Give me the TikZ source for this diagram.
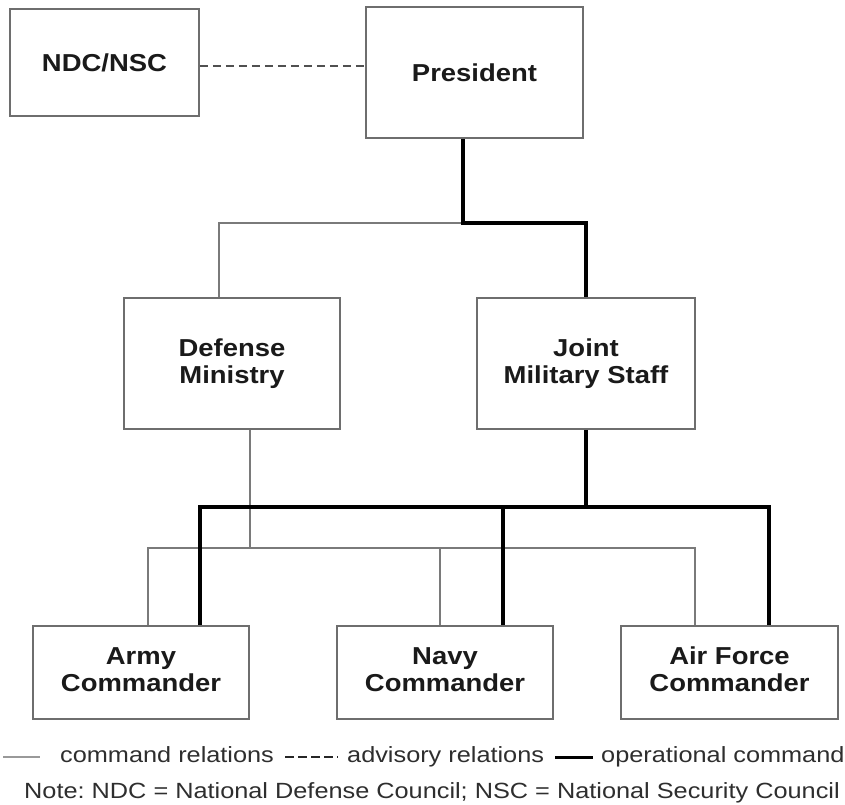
\documentclass[tikz,border=0pt]{standalone}
\usepackage{fontspec}
\setmainfont{Liberation Sans}
\newfontfamily\legfont{Liberation Sans}[FakeStretch=1.15]
\newfontfamily\boxfont{Liberation Sans}[FakeStretch=1.12]
\usetikzlibrary{calc}
\definecolor{boxgray}{HTML}{6E6E6E}
\definecolor{linegray}{HTML}{7A7A7A}
\definecolor{dashgray}{HTML}{505050}
\definecolor{txt}{HTML}{1A1A1A}
\definecolor{legtxt}{HTML}{2E2E2E}
\tikzset{
  orgbox/.style={draw=boxgray, line width=1.8pt, fill=white, inner sep=0pt,
    minimum width=216pt, minimum height=131pt, align=center, text=txt,
    font=\boxfont\fontsize{24.5}{27.5}\selectfont\bfseries},
  cmdline/.style={draw=linegray, line width=1.6pt},
  opline/.style={draw=black, line width=3.5pt, line cap=butt, line join=miter},
  advline/.style={draw=dashgray, line width=2pt, dash pattern=on 8pt off 5pt},
  legtext/.style={anchor=base west, inner sep=0pt, text=legtxt,
    font=\legfont\fontsize{22}{22}\selectfont}
}
\begin{document}
\begin{tikzpicture}[x=1pt,y=-1pt]
\useasboundingbox (0,0) rectangle (845,804);
% boxes
\node[orgbox, minimum width=189pt, minimum height=107pt] (ndc) at (104.5,62.5) {NDC/NSC};
\node[orgbox, minimum width=217pt] (pres) at (474.5,72.5) {\raisebox{-4.5pt}{President}};
\node[orgbox] (dm) at (232,363.5) {Defense\\Ministry};
\node[orgbox, minimum width=218pt] (jms) at (586,363.5) {Joint\\Military Staff};
\node[orgbox, minimum height=93pt] (army) at (141,672.5) {\raisebox{4pt}{\begin{tabular}{@{}c@{}}Army\\Commander\end{tabular}}};
\node[orgbox, minimum height=93pt] (navy) at (445,672.5) {\raisebox{4pt}{\begin{tabular}{@{}c@{}}Navy\\Commander\end{tabular}}};
\node[orgbox, minimum width=217pt, minimum height=93pt] (af) at (729.5,672.5) {\raisebox{4pt}{\begin{tabular}{@{}c@{}}Air Force\\Commander\end{tabular}}};
% junction coordinates
\coordinate (pj) at (463,223);
\coordinate (dmj) at (219,223);
\coordinate (dmd) at (250,548);
\coordinate (cbl) at (148,548);
\coordinate (cbm) at (440,548);
\coordinate (cbr) at (695,548);
\coordinate (obl) at (200,507);
\coordinate (obm) at (503,507);
\coordinate (obr) at (769,507);
% advisory
\draw[advline] (ndc.east |- 0,66) -- (pres.west |- 0,66);
% command relations (thin)
\draw[cmdline] (dm.north -| dmj) -- (dmj) -- (pj);
\draw[cmdline] (dm.south -| dmd) -- (dmd);
\draw[cmdline] (army.north -| cbl) -- (cbl) -- (cbr) -- (af.north -| cbr);
\draw[cmdline] (cbm) -- (navy.north -| cbm);
% operational command (thick)
\draw[opline] (pres.south -| pj) -- (pj) -- (pj -| jms.north) -- (jms.north);
\draw[opline] (jms.south) -- (jms.south |- obl);
\draw[opline] (army.north -| obl) -- (obl) -- (obr) -- (af.north -| obr);
\draw[opline] (obm) -- (navy.north -| obm);
% legend
\coordinate (l1a) at (3,757); \coordinate (l1b) at (40,757);
\draw[cmdline, draw=gray!80] (l1a) -- (l1b);
\node[legtext] (lt1) at (60,762) {command relations};
\coordinate (l2a) at (285,757); \coordinate (l2b) at (338,757);
\draw[draw=black!85, line width=2.2pt, dash pattern=on 9pt off 4pt] (l2a) -- (l2b);
\node[legtext] (lt2) at (347,762) {advisory relations};
\coordinate (l3a) at (555,757); \coordinate (l3b) at (593,757);
\draw[draw=black, line width=3pt] (l3a) -- (l3b);
\node[legtext] (lt3) at (601,762) {operational command};
\node[legtext] (note) at (24,798) {Note:\ NDC = National Defense Council; NSC = National Security Council};
\end{tikzpicture}
\end{document}
